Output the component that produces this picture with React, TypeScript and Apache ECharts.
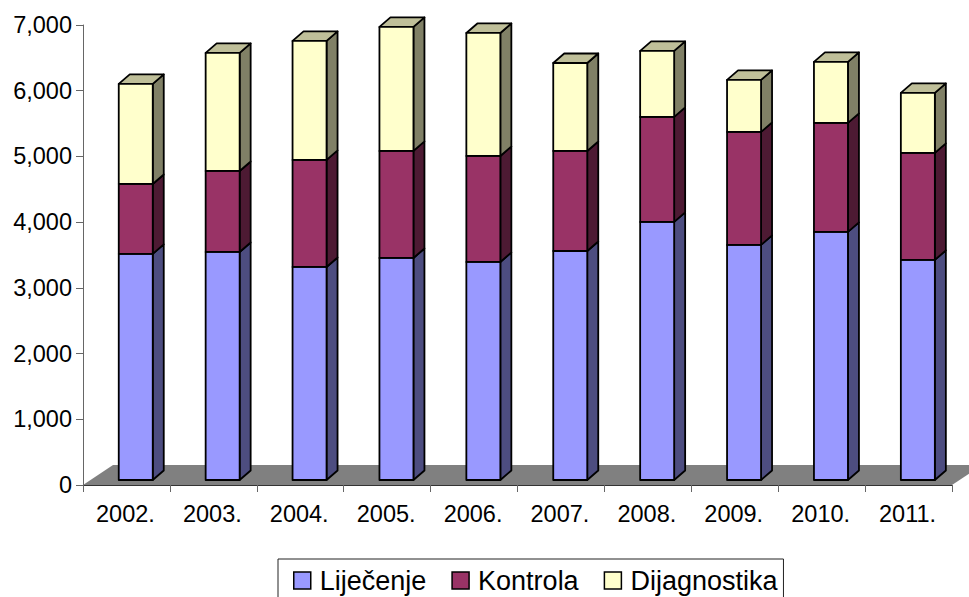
import React, { useEffect, useRef } from "react";
import * as echarts from "echarts";

const years = ["2002.", "2003.", "2004.", "2005.", "2006.", "2007.", "2008.", "2009.", "2010.", "2011."];
const lijecenje = [3440, 3470, 3242, 3379, 3318, 3485, 3927, 3577, 3775, 3349];
const kontrola = [1065, 1233, 1629, 1629, 1613, 1522, 1598, 1720, 1659, 1629];
const dijagnostika = [1522, 1796, 1811, 1887, 1872, 1339, 1005, 791, 928, 913];
const floorRow = [[0, 0]];

const FONT = "'Liberation Sans', Arial, sans-serif";
const BAR_W = 34;
const DX = 11;
const DY = 9.5;
const OFF_X = 9.3;
const OFF_Y = -5;

function barRenderer(front: string, side: string, top: string, showTop: boolean) {
  return (_params: any, api: any) => {
    const i = api.value(0);
    const a = api.coord([i, api.value(1)]);
    const b = api.coord([i, api.value(2)]);
    const x0 = a[0] + OFF_X - BAR_W / 2;
    const x1 = x0 + BAR_W;
    const y0 = a[1] + OFF_Y;
    const y1 = b[1] + OFF_Y;
    const line = { stroke: "#000", lineWidth: 1.8, lineJoin: "round" };
    const children: any[] = [
      {
        type: "polygon",
        shape: { points: [[x1, y0], [x1 + DX, y0 - DY], [x1 + DX, y1 - DY], [x1, y1]] },
        style: { fill: side, ...line },
      },
    ];
    if (showTop) {
      children.push({
        type: "polygon",
        shape: { points: [[x0, y1], [x0 + DX, y1 - DY], [x1 + DX, y1 - DY], [x1, y1]] },
        style: { fill: top, ...line },
      });
    }
    children.push({
      type: "rect",
      shape: { x: x0, y: y1, width: BAR_W, height: y0 - y1 },
      style: { fill: front, ...line },
    });
    return { type: "group", children };
  };
}

function stackedRows(lower: number[], values: number[]) {
  return values.map((v, i) => [i, lower[i], lower[i] + v]);
}

export default function App() {
  const ref = useRef<HTMLDivElement>(null);
  useEffect(() => {
    document.body.style.margin = "0";
    const chart = echarts.init(ref.current!, null, { renderer: "svg" });
    const zeros = years.map(() => 0);
    const lk = lijecenje.map((v, i) => v + kontrola[i]);
    chart.setOption({
      animation: false,
      backgroundColor: "#fff",
      grid: { left: 83, right: 17, top: 25, bottom: 112, containLabel: false },
      legend: {
        left: 278,
        top: 559,
        orient: "horizontal",
        selectedMode: false,
        data: ["Liječenje", "Kontrola", "Dijagnostika"],
        icon: "rect",
        itemWidth: 17,
        itemHeight: 17,
        itemGap: 25,
        padding: [8, 6, 8, 15],
        borderColor: "#222",
        borderWidth: 1,
        backgroundColor: "#fff",
        itemStyle: { borderColor: "#000", borderWidth: 1.5 },
        textStyle: { fontFamily: FONT, fontSize: 27, color: "#000", padding: [0, 0, 0, 4] },
      },
      xAxis: {
        type: "category",
        data: years,
        boundaryGap: true,
        z: 3,
        axisLine: { lineStyle: { color: "#333", width: 1 } },
        axisTick: { show: true, length: 7, alignWithLabel: false, lineStyle: { color: "#666", width: 1 } },
        axisLabel: { fontFamily: FONT, fontSize: 23.5, color: "#000", margin: 17, interval: 0, padding: [0, 2, 0, 0] },
        splitLine: { show: false },
      },
      yAxis: {
        type: "value",
        min: 0,
        max: 7000,
        interval: 1000,
        z: 3,
        axisLine: { show: true, lineStyle: { color: "#666", width: 1 } },
        axisTick: { show: true, length: 7, lineStyle: { color: "#666", width: 1 } },
        axisLabel: {
          fontFamily: FONT,
          fontSize: 23.5,
          color: "#000",
          margin: 11,
          formatter: (v: number) => v.toLocaleString("en-US"),
        },
        splitLine: { show: false },
      },
      series: [
        {
          type: "custom",
          z: 1,
          silent: true,
          data: floorRow,
          encode: { x: 0, y: 1 },
          renderItem: (params: any) => {
            const c = params.coordSys;
            const yb = c.y + c.height;
            return {
              type: "polygon",
              shape: {
                points: [
                  [c.x, yb],
                  [c.x + 30, yb - 20],
                  [c.x + c.width + 30, yb - 20],
                  [c.x + c.width, yb],
                ],
              },
              style: { fill: "#808080" },
            };
          },
        },
        {
          type: "custom",
          name: "Liječenje",
          z: 4,
          itemStyle: { color: "#9999FF" },
          data: stackedRows(zeros, lijecenje),
          encode: { x: 0, y: [1, 2] },
          renderItem: barRenderer("#9999FF", "#4D4D80", "#7373BF", false),
        },
        {
          type: "custom",
          name: "Kontrola",
          z: 4,
          itemStyle: { color: "#993366" },
          data: stackedRows(lijecenje, kontrola),
          encode: { x: 0, y: [1, 2] },
          renderItem: barRenderer("#993366", "#4D1A33", "#73264D", false),
        },
        {
          type: "custom",
          name: "Dijagnostika",
          z: 4,
          itemStyle: { color: "#FFFFCC" },
          data: stackedRows(lk, dijagnostika),
          encode: { x: 0, y: [1, 2] },
          renderItem: barRenderer("#FFFFCC", "#808066", "#BFBF99", true),
        },
      ],
    });
    return () => chart.dispose();
  }, []);
  return <div ref={ref} style={{ width: 969, height: 597, display: "block", overflow: "hidden" }} />;
}
